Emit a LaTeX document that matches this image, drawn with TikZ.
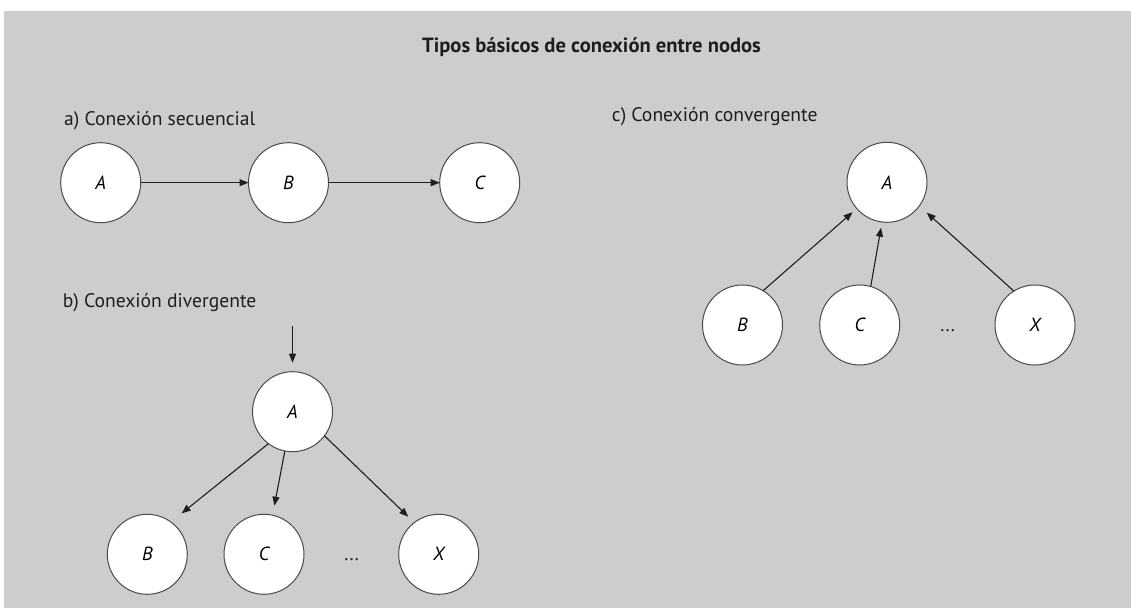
\documentclass[tikz,border=0pt]{standalone}
\usepackage{fontspec}
\setmainfont{PT Sans}
\usetikzlibrary{arrows.meta}
\definecolor{bg}{HTML}{CDCDCD}
\definecolor{ink}{HTML}{1E1E1E}
\definecolor{rim}{HTML}{4A4A4A}
\begin{document}
\begin{tikzpicture}[x=1pt,y=1pt,
  nd/.style={circle,draw=rim,line width=1pt,fill=white,minimum size=80pt,inner sep=0pt,outer sep=0pt,font=\fontsize{19}{22}\selectfont\itshape},
  lbl/.style={anchor=base west,inner sep=0pt,font=\fontsize{19.6}{22}\selectfont,text=ink},
  conn/.style={draw=ink,line width=1.1pt,-{Triangle[length=9pt,width=7pt]}},
  dotsn/.style={inner sep=0pt,font=\fontsize{19}{22}\selectfont,text=ink}]
\useasboundingbox (0,0) rectangle (1131,608);
\fill[bg] (4,0) rectangle (1131,597);
% title
\node[anchor=base,inner sep=0pt,font=\fontsize{20.6}{23}\selectfont\bfseries,text=ink] (title) at (591.5,555) {Tipos básicos de conexión entre nodos};
% a
\node[lbl] (la) at (64,482.5) {a) Conexión secuencial};
\node[nd] (A1) at (100.7,425.3) {A};
\node[nd] (B1) at (288.5,425.3) {B};
\node[nd] (C1) at (479.7,425.3) {C};
\draw[conn] (A1) -- (B1);
\draw[conn] (B1) -- (C1);
% b
\node[lbl] (lb) at (62.7,300.7) {b) Conexión divergente};
\node[nd] (A2) at (292.5,196.3) {A};
\node[nd] (B2) at (147.3,53.7) {B};
\node[nd] (C2) at (264,53.7) {C};
\node[nd] (X2) at (438.7,53.7) {X};
\node[dotsn] (d2) at (351.7,48) {...};
\coordinate (in2) at (292.5,282);
\draw[conn,shorten >=9pt] (in2) -- (A2);
\draw[conn] (A2.233) -- ([shift={(50:53.5)}]B2.center);
\draw[conn] (A2.259) -- ([shift={(78:49.7)}]C2.center);
\draw[conn] (A2.-37) -- ([shift={(129:48.4)}]X2.center);
% c
\node[lbl] (lc) at (611.7,486) {c) Conexión convergente};
\node[nd] (A3) at (887,425.7) {A};
\node[nd] (B3) at (742.5,283) {B};
\node[nd] (C3) at (859.7,283) {C};
\node[nd] (X3) at (1035,283) {X};
\node[dotsn] (d3) at (947.7,277) {...};
\draw[conn] (B3.59) -- ([shift={(221:45.6)}]A3.center);
\draw[conn] (C3.74) -- ([shift={(262.5:45.8)}]A3.center);
\draw[conn] (X3.122) -- ([shift={(-37.4:50)}]A3.center);
\end{tikzpicture}
\end{document}
